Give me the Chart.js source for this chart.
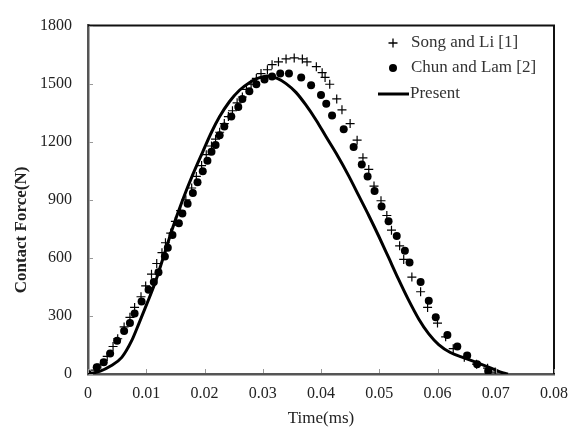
<!DOCTYPE html>
<html><head><meta charset="utf-8">
<script src="https://cdn.jsdelivr.net/npm/chart.js@4"></script>
<style>html,body{margin:0;padding:0;background:#fff}#wrap{width:578px;height:428px;position:relative}</style>
</head><body><div id="wrap"><canvas id="c" width="578" height="428"></canvas></div>
<script>
// ---- data (time in ms, force in N) ----
const songLiTime  = [0,0.0012,0.0022,0.0033,0.0043,0.0051,0.0062,0.0072,0.0080,0.0091,0.0099,0.0109,0.0118,0.0127,0.0133,0.0142,0.0150,0.0159,0.0168,0.0178,0.0186,0.0195,0.0203,0.0212,0.0219,0.0226,0.0234,0.0241,0.0248,0.0256,0.0265,0.0272,0.0280,0.0289,0.0297,0.0308,0.0316,0.0327,0.0340,0.0354,0.0368,0.0376,0.0392,0.0402,0.0407,0.0415,0.0427,0.0436,0.0450,0.0462,0.0472,0.0482,0.0491,0.0503,0.0513,0.0521,0.0535,0.0542,0.0556,0.0571,0.0583,0.0600,0.0614,0.0627,0.0646,0.0667,0.0686,0.0699];
const songLiForce = [0,20,51,91,142,182,243,293,344,399,455,516,571,627,678,728,789,844,900,961,1021,1077,1133,1178,1213,1249,1294,1330,1360,1401,1431,1471,1497,1527,1552,1572,1598,1613,1628,1633,1628,1613,1588,1557,1532,1497,1421,1365,1294,1208,1117,1057,971,895,819,743,662,592,501,425,344,263,192,131,86,51,30,10];

const chunLamTime  = [0,0.0015,0.0027,0.0038,0.0050,0.0062,0.0072,0.0080,0.0092,0.0104,0.0113,0.0121,0.0132,0.0137,0.0145,0.0156,0.0162,0.0171,0.0180,0.0188,0.0197,0.0205,0.0212,0.0219,0.0226,0.0234,0.0246,0.0258,0.0265,0.0277,0.0289,0.0303,0.0316,0.0330,0.0345,0.0366,0.0383,0.0400,0.0409,0.0419,0.0439,0.0456,0.0470,0.0480,0.0492,0.0504,0.0516,0.0530,0.0544,0.0552,0.0571,0.0585,0.0597,0.0617,0.0634,0.0651,0.0668,0.0687];
const chunLamForce = [0,35,61,106,172,222,263,313,374,435,475,526,607,652,718,779,829,880,935,991,1047,1102,1148,1183,1234,1279,1330,1380,1421,1461,1497,1522,1537,1552,1552,1532,1492,1441,1396,1335,1264,1173,1082,1021,946,865,789,713,637,576,475,379,293,202,142,96,51,15];

const presentTime  = [0,0.0021,0.0038,0.0058,0.0075,0.0087,0.0101,0.0115,0.0128,0.0145,0.0162,0.0180,0.0197,0.0212,0.0226,0.0243,0.0260,0.0277,0.0291,0.0308,0.0325,0.0340,0.0357,0.0374,0.0392,0.0409,0.0426,0.0448,0.0465,0.0482,0.0499,0.0516,0.0533,0.0550,0.0568,0.0585,0.0602,0.0622,0.0648,0.0670,0.0692,0.0713,0.0721];
const presentForce = [0,15,40,86,172,258,362,470,590,752,895,1031,1148,1249,1330,1408,1466,1505,1527,1540,1527,1500,1455,1390,1310,1224,1140,1021,920,819,713,602,490,384,283,207,152,111,81,56,30,5,0];

const seriesNames = ['Song and Li [1]', 'Chun and Lam [2]', 'Present'];
const xTicks = [0,0.01,0.02,0.03,0.04,0.05,0.06,0.07,0.08];
const xTickLabels = ['0','0.01','0.02','0.03','0.04','0.05','0.06','0.07','0.08'];
const yTicks = [0,300,600,900,1200,1500,1800];
const xTitle = 'Time(ms)';
const yTitle = 'Contact Force(N)';

const zip = (xs, ys) => xs.map((x, i) => ({x, y: ys[i]}));
const SERIF = '"Liberation Serif", "Times New Roman", serif';

const decor = {
  id: 'decor',
  afterDraw(chart) {
    const ctx = chart.ctx, a = chart.chartArea;
    const xs = chart.scales.x, ys = chart.scales.y;
    ctx.save();
    // frame top/right
    ctx.strokeStyle = '#111'; ctx.lineWidth = 2;
    ctx.beginPath();
    ctx.moveTo(a.left, a.top); ctx.lineTo(a.right, a.top); ctx.lineTo(a.right, a.bottom);
    ctx.stroke();
    // inward ticks
    ctx.strokeStyle = '#999'; ctx.lineWidth = 1;
    ctx.beginPath();
    xTicks.forEach(v => { const p = Math.round(xs.getPixelForValue(v)) + 0.5; ctx.moveTo(p, a.bottom - 1); ctx.lineTo(p, a.bottom - 5); });
    yTicks.forEach(v => { const p = Math.round(ys.getPixelForValue(v)) + 0.5; ctx.moveTo(a.left + 1, p); ctx.lineTo(a.left + 5, p); });
    ctx.stroke();
    // titles
    ctx.fillStyle = '#222';
    ctx.font = '17px ' + SERIF;
    ctx.textAlign = 'center'; ctx.textBaseline = 'middle';
    ctx.fillText(xTitle, (a.left + a.right) / 2, 419);
    ctx.save();
    ctx.translate(22, 230); ctx.rotate(-Math.PI / 2);
    ctx.font = 'bold 17px ' + SERIF;
    ctx.fillText(yTitle, 0, 0);
    ctx.restore();
    // legend
    const lx = 393, tx = 411;
    const rows = [43, 68, 94];
    ctx.textAlign = 'left'; ctx.font = '17px ' + SERIF;
    ctx.strokeStyle = '#000'; ctx.lineWidth = 1.3;
    ctx.beginPath(); ctx.moveTo(lx - 4.5, rows[0]); ctx.lineTo(lx + 4.5, rows[0]); ctx.moveTo(lx, rows[0] - 4.5); ctx.lineTo(lx, rows[0] + 4.5); ctx.stroke();
    ctx.fillStyle = '#000'; ctx.beginPath(); ctx.arc(lx, rows[1], 4, 0, Math.PI * 2); ctx.fill();
    ctx.lineWidth = 3; ctx.beginPath(); ctx.moveTo(378, rows[2]); ctx.lineTo(409, rows[2]); ctx.stroke();
    ctx.fillStyle = '#333';
    ctx.fillText(seriesNames[0], tx, rows[0]);
    ctx.fillText(seriesNames[1], tx, rows[1]);
    ctx.fillText(seriesNames[2], tx - 1, rows[2]);
    ctx.restore();
  }
};

new Chart(document.getElementById('c'), {
  type: 'scatter',
  data: {
    datasets: [
      { label: seriesNames[0], data: zip(songLiTime, songLiForce), pointStyle: 'cross', pointRadius: 4.5, borderColor: '#000', backgroundColor: '#000', pointBorderWidth: 1.2, showLine: false },
      { label: seriesNames[1], data: zip(chunLamTime, chunLamForce), pointStyle: 'circle', pointRadius: 4, borderColor: '#000', backgroundColor: '#000', pointBorderWidth: 0, showLine: false },
      { label: seriesNames[2], data: zip(presentTime, presentForce), showLine: true, pointRadius: 0, borderColor: '#000', borderWidth: 3, cubicInterpolationMode: 'monotone', fill: false }
    ]
  },
  options: {
    responsive: false, animation: false, devicePixelRatio: 1,
    layout: { padding: { left: 0, top: 18, right: 22, bottom: 0 } },
    plugins: { legend: { display: false }, tooltip: { enabled: false } },
    scales: {
      x: {
        type: 'linear', min: 0, max: 0.08,
        afterBuildTicks: s => { s.ticks = xTicks.map(v => ({ value: v })); },
        afterFit: s => { s.height = 54; },
        grid: { display: false, drawTicks: false },
        border: { display: true, color: '#555', width: 2.5 },
        ticks: { padding: 10, color: '#222', font: { family: SERIF, size: 16 }, maxRotation: 0,
          callback: (v) => { const i = xTicks.findIndex(t => Math.abs(t - v) < 1e-9); return i >= 0 ? xTickLabels[i] : ''; } }
      },
      y: {
        min: 0, max: 1800,
        afterBuildTicks: s => { s.ticks = yTicks.map(v => ({ value: v })); },
        afterFit: s => { s.width = 88; },
        grid: { display: false, drawTicks: false },
        border: { display: true, color: '#555', width: 2.5 },
        ticks: { padding: 16, color: '#222', font: { family: SERIF, size: 16 }, callback: v => String(v) }
      }
    }
  },
  plugins: [decor]
});
</script></body></html>
